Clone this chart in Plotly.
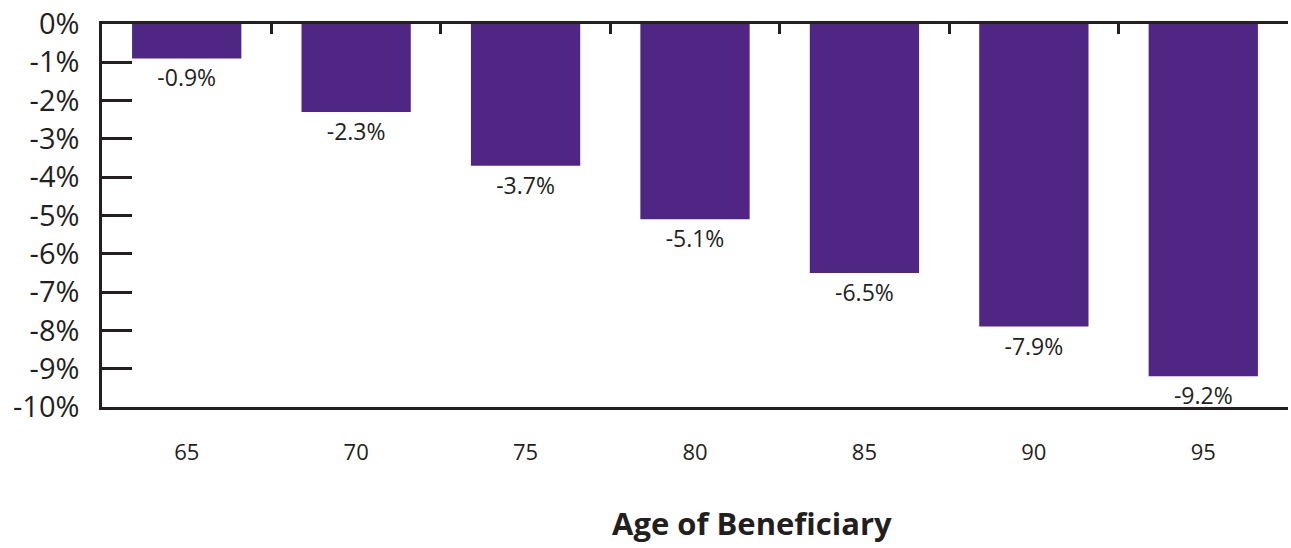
import plotly.graph_objects as go

ages = ["65", "70", "75", "80", "85", "90", "95"]
changes = [-0.9, -2.3, -3.7, -5.1, -6.5, -7.9, -9.2]
labels = ["-0.9%", "-2.3%", "-3.7%", "-5.1%", "-6.5%", "-7.9%", "-9.2%"]
y_ticks = [0, -1, -2, -3, -4, -5, -6, -7, -8, -9, -10]
y_tick_text = ["0%", "-1%", "-2%", "-3%", "-4%", "-5%", "-6%", "-7%", "-8%", "-9%", "-10%"]
x_title = "Age of Beneficiary"

BAR = "#4F2683"
INK = "#231F20"
FONT = "Open Sans"

fig = go.Figure()
fig.add_bar(
    x=ages, y=changes, width=0.645, marker_color=BAR, marker_line_width=0,
    text=labels, textposition="outside", cliponaxis=False,
    textfont=dict(family=FONT, size=23, color=INK),
    xaxis="x", yaxis="y", hoverinfo="skip",
)
# invisible trace to drive the top (zero-line) axis with boundary ticks
fig.add_scatter(x=ages, y=changes, mode="markers", marker=dict(opacity=0),
                xaxis="x2", yaxis="y", hoverinfo="skip", showlegend=False)

fig.update_layout(
    width=1291, height=548,
    margin=dict(l=102, r=3, t=20, b=141),
    plot_bgcolor="white", paper_bgcolor="white",
    showlegend=False,
    font=dict(family=FONT, color=INK),
    xaxis=dict(
        type="category", categoryorder="array", categoryarray=ages,
        showline=True, linecolor=INK, linewidth=2.5,
        ticks="", showgrid=False, zeroline=False,
        tickfont=dict(family=FONT, size=22, color=INK),
        ticklabelstandoff=24,
    ),
    xaxis2=dict(
        type="category", categoryorder="array", categoryarray=ages,
        overlaying="x", matches="x", side="top",
        showline=True, linecolor=INK, linewidth=2.5,
        ticks="inside", tickson="boundaries", ticklen=10, tickwidth=2.5, tickcolor=INK,
        showticklabels=False, showgrid=False, zeroline=False,
    ),
    yaxis=dict(
        range=[-10, 0], tickvals=y_ticks, ticktext=y_tick_text,
        showline=True, linecolor=INK, linewidth=2.5,
        ticks="inside", ticklen=30, tickwidth=2.5, tickcolor=INK,
        showgrid=False, zeroline=False,
        tickfont=dict(family=FONT, size=29, color=INK),
        ticklabelstandoff=14, ticklabeloverflow="allow",
    ),
    annotations=[dict(
        text="<b>" + x_title + "</b>", xref="paper", yref="paper",
        x=0.548, y=-0.302, xanchor="center", yanchor="middle",
        showarrow=False, font=dict(family=FONT, size=31, color=INK),
    )],
)

fig.write_html("out.html")
